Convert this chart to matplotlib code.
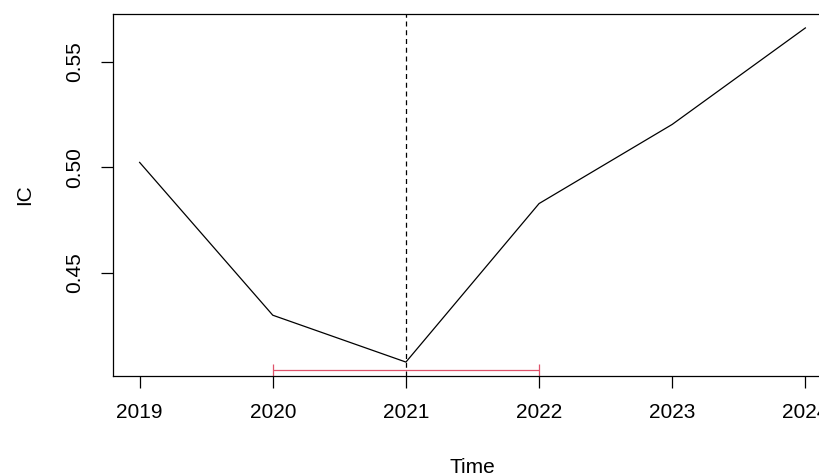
import matplotlib.pyplot as plt

# IC over time
years = [2019, 2020, 2021, 2022, 2023, 2024]
ic = [0.5024, 0.4300, 0.4078, 0.4829, 0.5204, 0.5661]

break_year = 2021
interval = [2020, 2022]
interval_y = 0.4040

y_ticks = [0.45, 0.50, 0.55]
y_tick_labels = ['0.45', '0.50', '0.55']

plt.rcParams['font.family'] = ['Liberation Sans', 'DejaVu Sans']

fig = plt.figure(figsize=(8.2, 4.76), dpi=100)
# the original plot is cut off at the right edge, so the axes run past the figure
ax = fig.add_axes([113 / 820, 100 / 476, 719 / 820, 362 / 476])

ax.plot(years, ic, color='black', lw=0.9)
ax.axvline(break_year, color='black', lw=0.9, ls=(0, (4, 3)))

# confidence interval bar with end caps
ax.errorbar([sum(interval) / 2], [interval_y],
            xerr=[[(interval[1] - interval[0]) / 2]],
            color='#DF536B', lw=0.9, capsize=4.4, capthick=0.9, fmt='none')

ax.set_xlim(2018.8, 2024.2)
ax.set_ylim(0.4012, 0.5727)
ax.set_xticks(years)
ax.set_xticklabels([str(y) for y in years])
ax.set_yticks(y_ticks)
ax.set_yticklabels(y_tick_labels, rotation=90, va='center')

for s in ax.spines.values():
    s.set_linewidth(0.9)
ax.tick_params(axis='both', direction='out', length=8.6, width=0.9,
               labelsize=15, colors='black')
ax.tick_params(axis='x', pad=11)
ax.tick_params(axis='y', pad=12)

ax.set_xlabel('Time', fontsize=15, va='center')
ax.xaxis.set_label_coords(0.5, -0.252)
ax.set_ylabel('IC', fontsize=15, va='center')
ax.yaxis.set_label_coords(-0.1224, 0.5)

fig.savefig('out.png', dpi=100)
